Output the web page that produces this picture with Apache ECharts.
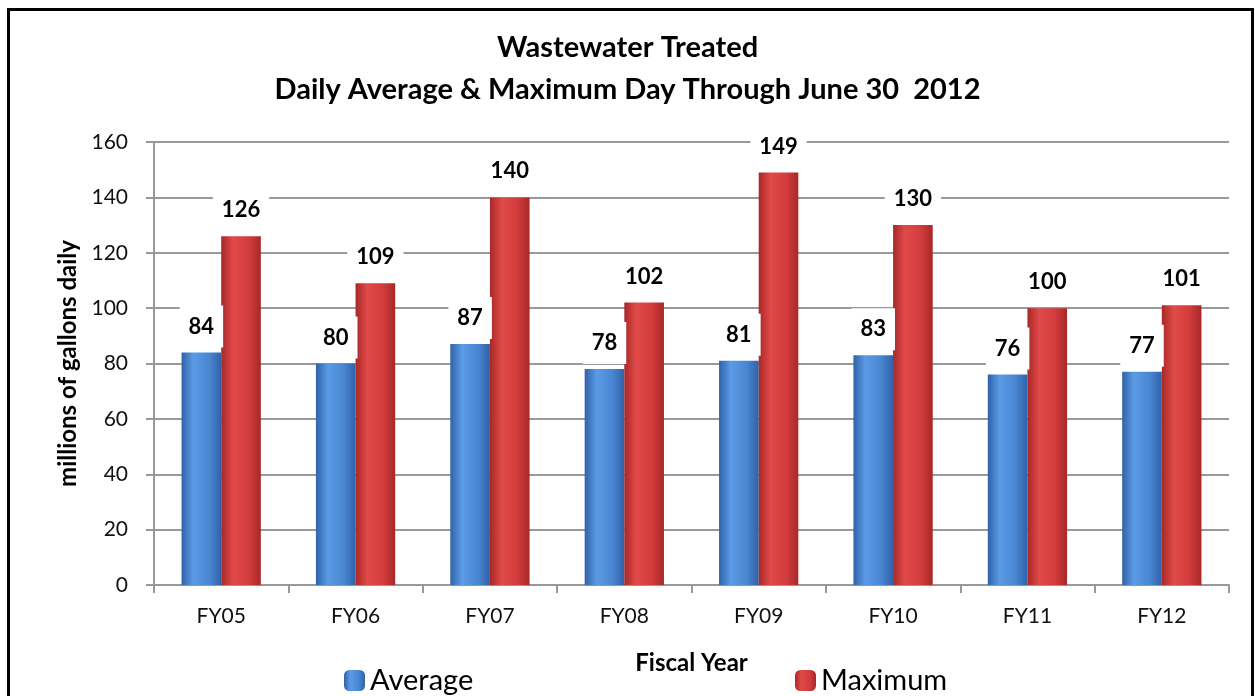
<!DOCTYPE html>
<html>
<head>
<meta charset="utf-8">
<script src="https://cdn.jsdelivr.net/npm/echarts@6/dist/echarts.min.js"></script>
<style>
  html, body { margin: 0; padding: 0; background: #fff; }
  #chart { width: 1255px; height: 696px; }
</style>
</head>
<body>
<div id="chart"></div>
<script>
var years = ['FY05', 'FY06', 'FY07', 'FY08', 'FY09', 'FY10', 'FY11', 'FY12'];
var average = [84, 80, 87, 78, 81, 83, 76, 77];
var maximum = [126, 109, 140, 102, 149, 130, 100, 101];
var yTicks = [0, 20, 40, 60, 80, 100, 120, 140, 160];

var font = 'Lato, "Noto Sans", sans-serif';

function grad(dark, light, mid) {
  return new echarts.graphic.LinearGradient(0, 0, 1, 0, [
    { offset: 0, color: dark },
    { offset: 0.3, color: light },
    { offset: 0.7, color: mid },
    { offset: 1, color: dark }
  ]);
}

var label = {
  show: true,
  position: 'top',
  distance: 5,
  color: '#000',
  fontFamily: font,
  fontWeight: 'bold',
  fontSize: 22,
  backgroundColor: '#fff',
  padding: [10, 9, 10, 9]
};

var myChart = echarts.init(document.getElementById('chart'));
var option = {
  backgroundColor: '#fff',
  animation: false,
  title: {
    text: 'Wastewater Treated\nDaily Average & Maximum Day Through June 30  2012',
    left: 'center',
    top: 22,
    textStyle: {
      fontFamily: font, fontWeight: 'bold', fontSize: 29, color: '#000', lineHeight: 42
    }
  },
  graphic: [{
    type: 'rect',
    shape: { x: 8.5, y: 9.5, width: 1244, height: 700 },
    style: { fill: 'none', stroke: '#000', lineWidth: 3 },
    z: 100
  }],
  legend: [{
    data: ['Average'],
    left: 339, top: 661,
    itemWidth: 21, itemHeight: 21,
    textStyle: { fontFamily: font, fontSize: 29, color: '#000' }
  }, {
    data: ['Maximum'],
    left: 790, top: 661,
    itemWidth: 21, itemHeight: 21,
    textStyle: { fontFamily: font, fontSize: 29, color: '#000' }
  }],
  grid: { left: 154, right: 26, top: 142, bottom: 111 },
  xAxis: {
    type: 'category',
    data: years,
    name: 'Fiscal Year',
    nameLocation: 'middle',
    nameGap: 66,
    nameTextStyle: { fontFamily: font, fontWeight: 'bold', fontSize: 24, color: '#000' },
    axisLine: { lineStyle: { color: '#999', width: 2 } },
    axisTick: { show: true, length: 8, lineStyle: { color: '#999', width: 2 } },
    axisLabel: { fontFamily: font, fontSize: 21, color: '#111', margin: 21 }
  },
  yAxis: {
    type: 'value',
    min: yTicks[0],
    max: yTicks[yTicks.length - 1],
    interval: 20,
    name: 'millions of gallons daily',
    nameLocation: 'middle',
    nameGap: 60,
    nameTextStyle: { fontFamily: font, fontWeight: 'bold', fontSize: 24, color: '#000' },
    axisLine: { show: true, lineStyle: { color: '#999', width: 2 } },
    axisTick: { show: true, length: 8, lineStyle: { color: '#999', width: 2 } },
    axisLabel: { fontFamily: font, fontSize: 21, color: '#111', margin: 26 },
    splitLine: { lineStyle: { color: '#999', width: 2 } }
  },
  series: [{
    name: 'Average',
    type: 'bar',
    data: average,
    barGap: '0%',
    barCategoryGap: '41%',
    itemStyle: { color: grad('#2f62a8', '#5b9be6', '#4a86d2') },
    label: label
  }, {
    name: 'Maximum',
    type: 'bar',
    data: maximum,
    itemStyle: { color: grad('#a82828', '#e04a48', '#d23c3c') },
    label: label
  }]
};
if (option && typeof option === 'object') {
  myChart.setOption(option, true);
}
</script>
</body>
</html>
